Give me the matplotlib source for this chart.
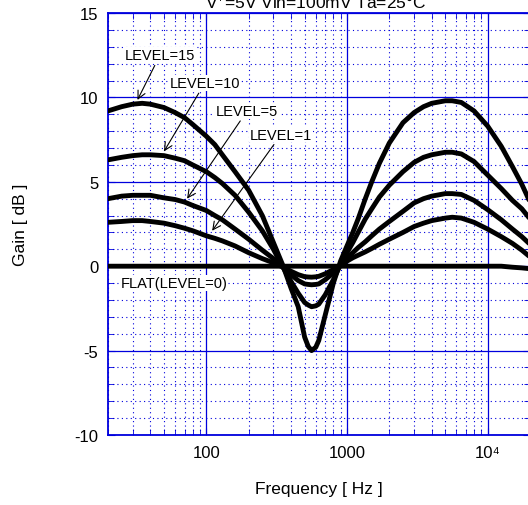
import matplotlib
matplotlib.use("Agg")
import matplotlib.pyplot as plt
from matplotlib.ticker import LogLocator, MultipleLocator, NullFormatter

plt.rcParams["font.family"] = ["Liberation Sans", "DejaVu Sans"]
plt.rcParams["mathtext.default"] = "regular"
plt.rcParams["axes.unicode_minus"] = False

# frequentie-as [Hz] en gain [dB] per LEVEL-stand
freq = [20, 25, 30, 35, 40, 50, 60, 70, 80, 100, 115, 130, 160, 200, 250,
        300, 350, 400, 450, 500, 530, 560, 600, 630, 700, 800, 900, 1000,
        1100, 1200, 1350, 1500, 1700, 2000, 2500, 3000, 3500, 4000, 5000,
        5600, 6500, 8000, 10000, 12500, 15000, 17500, 20000]

level15 = [9.2, 9.45, 9.6, 9.65, 9.6, 9.4, 9.1, 8.8, 8.4, 7.7, 7.2, 6.6, 5.6,
           4.5, 3.0, 1.4, 0.05, -1.3, -2.4, -4.2, -4.75, -5.0, -4.8, -4.4,
           -2.9, -1.0, 0.3, 1.2, 2.0, 2.8, 4.0, 5.0, 6.1, 7.3, 8.5, 9.1, 9.45,
           9.65, 9.8, 9.8, 9.7, 9.2, 8.3, 7.1, 5.9, 4.85, 3.8]
level10 = [6.3, 6.45, 6.55, 6.6, 6.6, 6.55, 6.4, 6.25, 6.0, 5.6, 5.25, 4.9,
           4.2, 3.2, 2.1, 1.0, -0.05, -0.9, -1.6, -2.15, -2.3, -2.4, -2.35,
           -2.25, -1.7, -0.8, 0.1, 0.8, 1.4, 2.0, 2.8, 3.4, 4.1, 4.8, 5.6,
           6.15, 6.45, 6.6, 6.75, 6.75, 6.65, 6.2, 5.4, 4.6, 3.9, 3.4, 2.8]
level5 = [4.0, 4.15, 4.2, 4.2, 4.2, 4.05, 3.95, 3.8, 3.6, 3.3, 3.0, 2.75, 2.2,
          1.6, 0.95, 0.45, -0.05, -0.5, -0.85, -1.05, -1.08, -1.1, -1.08,
          -1.05, -0.8, -0.4, 0.05, 0.5, 0.8, 1.1, 1.45, 1.8, 2.2, 2.65, 3.25,
          3.75, 4.0, 4.15, 4.3, 4.3, 4.25, 3.9, 3.35, 2.75, 2.2, 1.75, 1.3]
level1 = [2.6, 2.65, 2.7, 2.7, 2.65, 2.55, 2.4, 2.25, 2.1, 1.8, 1.65, 1.5, 1.2,
          0.8, 0.45, 0.2, -0.05, -0.3, -0.5, -0.62, -0.64, -0.65, -0.63, -0.6,
          -0.45, -0.2, 0.03, 0.3, 0.5, 0.65, 0.85, 1.05, 1.3, 1.6, 2.0, 2.35,
          2.55, 2.7, 2.85, 2.9, 2.85, 2.6, 2.2, 1.75, 1.35, 0.95, 0.55]
flat = [0.0] * 44 + [-0.06, -0.1, -0.15]

BLAUW = "#0000dd"

fig = plt.figure(figsize=(5.28, 5.06), dpi=100)
ax = fig.add_axes([108 / 528, 70 / 506, 422 / 528, 422 / 506])

for gain in (level15, level10, level5, level1, flat):
    ax.plot(freq, gain, color="black", lw=3.5, solid_capstyle="round",
            solid_joinstyle="round", zorder=3)

ax.set_xscale("log")
ax.set_xlim(20, 20000)
ax.set_ylim(-10, 15)
ax.set_xticks([100, 1000, 10000])
ax.set_xticklabels(["100", "1000", "10⁴"])
ax.xaxis.set_minor_locator(LogLocator(base=10, subs=range(2, 10)))
ax.xaxis.set_minor_formatter(NullFormatter())
ax.set_yticks(range(-10, 16, 5))
ax.yaxis.set_minor_locator(MultipleLocator(1))

ax.grid(which="major", color=BLAUW, lw=0.9, ls="-")
ax.grid(which="minor", color=BLAUW, lw=0.8, ls=(0, (1, 3)))
ax.set_axisbelow(True)
for sp in ax.spines.values():
    sp.set_color(BLAUW)
    sp.set_linewidth(1.3)
ax.tick_params(which="both", direction="in", color=BLAUW, labelcolor="black",
               top=True, right=True, labelsize=12, pad=7)
ax.tick_params(which="major", length=5)
ax.tick_params(which="minor", length=4)

ax.set_xlabel("Frequency [ Hz ]", fontsize=12.5)
ax.xaxis.set_label_coords(0.5, -0.1256)
ax.xaxis.label.set_verticalalignment("center")
ax.set_ylabel("Gain [ dB ]", fontsize=12.5)
ax.yaxis.set_label_coords(-0.207, 0.5)
ax.yaxis.label.set_verticalalignment("center")

fig.text(316 / 528, 1 - 8 / 506, "V$^{+}$=5V Vin=100mV Ta=25°C",
         ha="center", va="baseline", fontsize=12.5)

# labels met pijlen
box = dict(facecolor="white", edgecolor="none", pad=0.5)
pijl = dict(arrowstyle="->", color="black", lw=0.8, shrinkA=2, shrinkB=0,
            mutation_scale=14)
ax.annotate("LEVEL=15", xy=(32.4, 9.85), xytext=(46.8, 12.5), ha="center",
            va="center", fontsize=10.5, bbox=box, arrowprops=pijl, zorder=5)
ax.annotate("LEVEL=10", xy=(50, 6.8), xytext=(97.6, 10.85), ha="center",
            va="center", fontsize=10.5, bbox=box, arrowprops=pijl, zorder=5)
ax.annotate("LEVEL=5", xy=(73, 4.0), xytext=(195, 9.2), ha="center",
            va="center", fontsize=10.5, bbox=box, arrowprops=pijl, zorder=5)
ax.annotate("LEVEL=1", xy=(110, 2.1), xytext=(340, 7.8), ha="center",
            va="center", fontsize=10.5, bbox=box, arrowprops=pijl, zorder=5)
ax.text(58.8, -1.0, "FLAT(LEVEL=0)", ha="center", va="center", fontsize=10.5,
        bbox=box, zorder=5)

fig.savefig("out.png", dpi=100)
